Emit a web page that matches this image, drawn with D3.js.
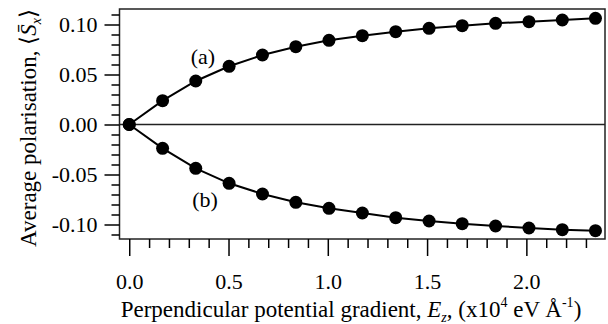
<!DOCTYPE html>
<html>
<head>
<meta charset="utf-8">
<script src="https://cdn.jsdelivr.net/npm/d3@7"></script>
<style>
  body { margin: 0; background: #fff; }
  text { font-family: "Liberation Serif", "Times New Roman", serif; fill: #000; }
</style>
</head>
<body>
<svg id="chart" width="608" height="324"></svg>
<script>
// field values (x10^4 eV/Å)
const fieldValues = [0, 0.168, 0.335, 0.503, 0.671, 0.839, 1.006, 1.174, 1.342, 1.510, 1.677, 1.845, 2.013, 2.181, 2.348];
// curve (a)
const seriesA = [0, 0.0238, 0.0435, 0.0582, 0.0695, 0.0778, 0.0842, 0.0888, 0.0928, 0.0962, 0.0988, 0.1012, 0.1028, 0.1045, 0.1062];
// curve (b)
const seriesB = [0, -0.0238, -0.0438, -0.0588, -0.0695, -0.0778, -0.0838, -0.0885, -0.0932, -0.0965, -0.0992, -0.1015, -0.1035, -0.1052, -0.1062];
const xMajorTicks = [0, 0.5, 1.0, 1.5, 2.0];
const yMajorTicks = [-0.10, -0.05, 0, 0.05, 0.10];

const svg = d3.select("#chart");
const plot = {left: 119.5, right: 605, top: 9, bottom: 239};

const x = d3.scaleLinear().domain([-0.049, 2.396]).range([plot.left, plot.right]);
const y = d3.scaleLinear().domain([-0.1145, 0.1155]).range([plot.bottom, plot.top]);

// frame
svg.append("rect")
    .attr("x", plot.left).attr("y", plot.top)
    .attr("width", plot.right - plot.left).attr("height", plot.bottom - plot.top)
    .attr("fill", "none").attr("stroke", "#222").attr("stroke-width", 1.5);

// minor ticks
const xMinor = d3.range(0, 2.35, 0.1).filter(v => !xMajorTicks.some(t => Math.abs(t - v) < 1e-6));
const yMinor = d3.range(-0.11, 0.115, 0.01).filter(v => !yMajorTicks.some(t => Math.abs(t - v) < 1e-6));

const xAxis = svg.append("g").attr("transform", `translate(0,${plot.bottom})`)
    .call(d3.axisBottom(x).tickValues(xMajorTicks).tickSize(17).tickPadding(16).tickFormat(d3.format(".1f")));
svg.append("g").attr("transform", `translate(0,${plot.bottom})`)
    .call(d3.axisBottom(x).tickValues(xMinor).tickSize(9).tickFormat(""));

const yAxis = svg.append("g").attr("transform", `translate(${plot.left},0)`)
    .call(d3.axisLeft(y).tickValues(yMajorTicks).tickSize(15).tickPadding(7).tickFormat(d3.format(".2f")));
svg.append("g").attr("transform", `translate(${plot.left},0)`)
    .call(d3.axisLeft(y).tickValues(yMinor).tickSize(8).tickFormat(""));

svg.selectAll(".domain").remove();
svg.selectAll(".tick line").attr("stroke", "#000").attr("stroke-width", 1.5);
svg.selectAll(".tick text").attr("font-size", 22).attr("font-family", "Liberation Serif");
yAxis.selectAll(".tick text").text(d => d3.format(".2f")(d).replace("−", "-"));
xAxis.selectAll(".tick text").attr("dy", "0.75em");

// zero line
svg.append("line")
    .attr("x1", plot.left).attr("x2", plot.right)
    .attr("y1", y(0)).attr("y2", y(0))
    .attr("stroke", "#222").attr("stroke-width", 1.5);

const line = d3.line().x((d, i) => x(fieldValues[i])).y(d => y(d));

[seriesA, seriesB].forEach(s => {
    svg.append("path").datum(s)
        .attr("d", line).attr("fill", "none").attr("stroke", "#000").attr("stroke-width", 2);
    svg.append("g").selectAll("circle").data(s).join("circle")
        .attr("cx", (d, i) => x(fieldValues[i])).attr("cy", d => y(d))
        .attr("r", 6.5).attr("fill", "#000");
});

// curve labels
svg.append("text").attr("x", 203).attr("y", 64).attr("text-anchor", "middle")
    .attr("font-size", 22).text("(a)");
svg.append("text").attr("x", 205).attr("y", 207).attr("text-anchor", "middle")
    .attr("font-size", 22).text("(b)");

// x title
const xt = svg.append("text").attr("x", 351).attr("y", 317).attr("text-anchor", "middle").attr("font-size", 23);
xt.append("tspan").text("Perpendicular potential gradient, ");
xt.append("tspan").attr("font-style", "italic").text("E");
xt.append("tspan").attr("font-style", "italic").attr("font-size", 14).attr("dy", 5).text("z");
xt.append("tspan").attr("dy", -5).text(", (x10");
xt.append("tspan").attr("font-size", 14).attr("dy", -10).text("4");
xt.append("tspan").attr("dy", 10).text("  eV Å");
xt.append("tspan").attr("font-size", 14).attr("dy", -10).text("-1");
xt.append("tspan").attr("dy", 10).text(")");

// y title
const yt = svg.append("text").attr("transform", "translate(36,128) rotate(-90)")
    .attr("text-anchor", "middle").attr("font-size", 23);
yt.append("tspan").text("Average polarisation, ⟨");
yt.append("tspan").attr("font-style", "italic").text("S\u0304");
yt.append("tspan").attr("font-style", "italic").attr("font-size", 14).attr("dy", 5).text("x");
yt.append("tspan").attr("dy", -5).text("⟩");
</script>
</body>
</html>
